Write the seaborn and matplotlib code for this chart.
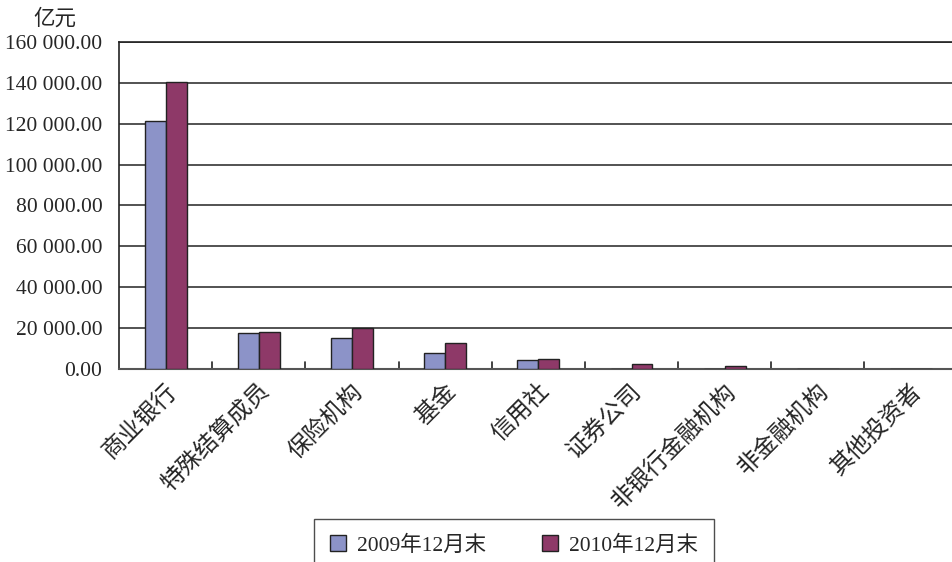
import numpy as np
import pandas as pd
import matplotlib
matplotlib.use("Agg")
import matplotlib.pyplot as plt
import seaborn as sns

# ==========================================
# DATA (亿元)
# ==========================================
categories = ['商业银行', '特殊结算成员', '保险机构', '基金', '信用社',
              '证券公司', '非银行金融机构', '非金融机构', '其他投资者']
series_names = ['2009年12月末', '2010年12月末']
values_2009 = [121300, 17600, 15200, 7800, 4600, 0, 0, 0, 0]
values_2010 = [140500, 18100, 20000, 12700, 5100, 2600, 1700, 0, 0]
y_ticks = [0, 20000, 40000, 60000, 80000, 100000, 120000, 140000, 160000]
unit_label = '亿元'

colors = ['#8C93C8', '#8E3968']

df = pd.DataFrame({
    'cat': categories * 2,
    'series': [series_names[0]] * len(categories) + [series_names[1]] * len(categories),
    'value': values_2009 + values_2010,
})

sns.set_style('white')
plt.rcParams['font.family'] = ['Liberation Serif', 'Noto Sans CJK SC', 'DejaVu Sans']

fig = plt.figure(figsize=(9.53, 5.62), dpi=100)
ax = fig.add_axes([0.1249, 0.3434, 0.88, 0.5819])

sns.barplot(data=df, x='cat', y='value', hue='series', palette=colors,
            width=0.45, edgecolor='#222222', linewidth=1.0, ax=ax,
            saturation=1, legend=True, zorder=3)

ax.set_ylim(0, 160000)
ax.set_xlim(-0.5, len(categories) - 0.5)
ax.set_yticks(y_ticks)
ax.set_yticklabels([f"{v:,.2f}".replace(',', ' ') for v in y_ticks], fontsize=15.5)
ax.set_xlabel('')
ax.set_ylabel('')

# gridlines
for v in y_ticks[1:]:
    ax.axhline(v, color='#444444', lw=1.3, zorder=1)

# x tick marks at category borders
ax.set_xticks(np.arange(len(categories)))
ax.set_xticklabels(categories, rotation=45, ha='right', rotation_mode='anchor', fontsize=17)
ax.tick_params(axis='x', length=0, pad=8)
ax.tick_params(axis='y', length=0, pad=12)
for b in np.arange(0.5, len(categories) - 0.5, 1.0):
    ax.plot([b, b], [0, 3300], color='#222222', lw=1.2, zorder=2, clip_on=False)

for side in ['left', 'top']:
    ax.spines[side].set_color('#222222')
    ax.spines[side].set_linewidth(1.2)
ax.spines['bottom'].set_color('#555555')
ax.spines['bottom'].set_linewidth(1.5)
ax.spines['right'].set_visible(False)

fig.text(0.058, 0.966, unit_label, fontsize=15.5, ha='center', va='center')

ax.get_legend().remove()
handles = [plt.Rectangle((0, 0), 1, 1, facecolor=c, edgecolor='#222222', lw=1.0) for c in colors]
leg = fig.legend(handles, series_names, loc='upper center', bbox_to_anchor=(0.539, 0.0765),
                 ncol=2, fontsize=15.5, frameon=True, fancybox=False, columnspacing=2.6,
                 handlelength=0.75, handleheight=0.75, handletextpad=0.5, borderpad=0.75,
                 borderaxespad=0)
leg.get_frame().set_edgecolor('#222222')
leg.get_frame().set_linewidth(1.0)

fig.savefig('out.png', dpi=100)
